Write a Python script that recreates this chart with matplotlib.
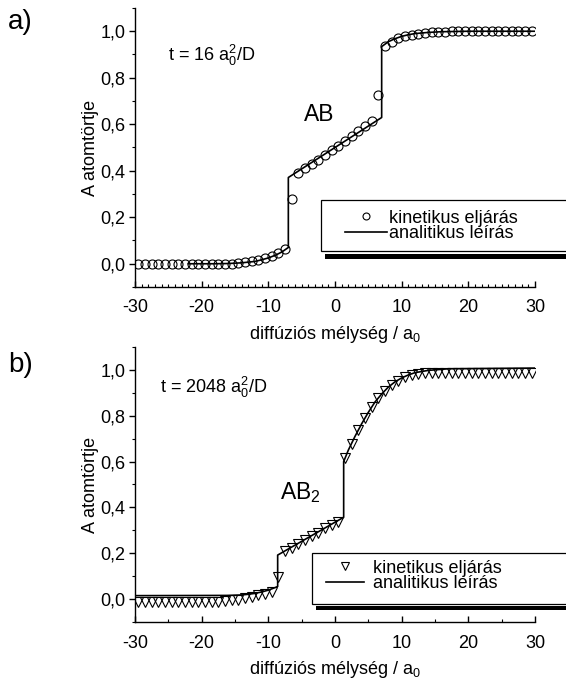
import numpy as np
import matplotlib
matplotlib.use("Agg")
import matplotlib.pyplot as plt
from matplotlib.ticker import MultipleLocator, FuncFormatter
from matplotlib.lines import Line2D
from matplotlib.patches import Rectangle

plt.rcParams['font.family'] = ['Liberation Sans', 'DejaVu Sans']
plt.rcParams['mathtext.fontset'] = 'custom'
plt.rcParams['mathtext.rm'] = 'Liberation Sans'
plt.rcParams['mathtext.it'] = 'Liberation Sans'
plt.rcParams['mathtext.default'] = 'regular'

# ---------------- data: panel a (t = 16) ----------------
kin_a_x = np.arange(-29.5, 30, 1.0)
kin_a_y = [0.0, 0.0, 0.0, 0.0, 0.0, 0.0, 0.0, 0.0, 0.0, 0.0,
           0.0, 0.0, 0.0, 0.0, 0.001, 0.003, 0.006, 0.010, 0.016, 0.024,
           0.034, 0.047, 0.062, 0.28, 0.39, 0.41, 0.43, 0.447, 0.467, 0.488,
           0.507, 0.529, 0.55, 0.572, 0.593, 0.612, 0.726, 0.938, 0.955, 0.970,
           0.978, 0.985, 0.990, 0.993, 0.995, 0.997, 0.998, 0.999, 0.999, 1.0,
           1.0, 1.0, 1.0, 1.0, 1.0, 1.0, 1.0, 1.0, 1.0, 1.0]
ana_a_x = [-22, -18, -16, -14, -12, -11, -10, -9, -8, -7, -7, 7, 7, 8, 9, 10, 11, 12, 14, 16, 20, 30]
ana_a_y = [0.0, 0.0, 0.001, 0.004, 0.010, 0.017, 0.025, 0.036, 0.050, 0.070, 0.371,
           0.629, 0.934, 0.955, 0.968, 0.978, 0.985, 0.990, 0.995, 0.998, 1.0, 1.0]

# ---------------- data: panel b (t = 2048) ----------------
kin_b_x = np.arange(-29.5, 30, 1.0)
kin_b_y = [-0.012, -0.012, -0.012, -0.012, -0.012, -0.012, -0.012, -0.012, -0.012, -0.012,
           -0.012, -0.012, -0.012, -0.010, -0.006, -0.002, 0.003, 0.009, 0.016, 0.024,
           0.033, 0.095, 0.210, 0.225, 0.240, 0.257, 0.274, 0.289, 0.308, 0.322,
           0.337, 0.617, 0.678, 0.739, 0.791, 0.837, 0.878, 0.910, 0.935, 0.953,
           0.968, 0.978, 0.984, 0.986, 0.987, 0.987, 0.987, 0.987, 0.987, 0.987,
           0.987, 0.987, 0.987, 0.987, 0.987, 0.987, 0.987, 0.987, 0.987, 0.987]
ana_b_x = [-30, -16, -14, -13, -12, -11, -10, -9, -8.6, -8.6, 1.3, 1.3, 2, 3, 4, 5, 6, 7, 8, 9, 10, 11, 12, 14, 17, 30]
ana_b_y = [0.015, 0.016, 0.018, 0.021, 0.025, 0.031, 0.039, 0.050, 0.055, 0.192, 0.357,
           0.600, 0.650, 0.710, 0.765, 0.815, 0.860, 0.895, 0.925, 0.948, 0.965, 0.978,
           0.988, 0.998, 1.005, 1.008]

W, H = 566, 684
fig = plt.figure(figsize=(W / 100, H / 100), dpi=100)

def px(x0, y0, x1, y1):
    return [x0 / W, 1 - y1 / H, (x1 - x0) / W, (y1 - y0) / H]

ax1 = fig.add_axes(px(135, 8, 535, 287))
ax2 = fig.add_axes(px(135, 347, 535, 622))

comma = FuncFormatter(lambda v, p: f"{v:.1f}".replace('.', ','))
intfmt = FuncFormatter(lambda v, p: f"{v:.0f}")

fs = 13
for ax, minor_x in ((ax1, 1), (ax2, 5)):
    ax.set_xlim(-30, 30)
    ax.set_ylim(-0.1, 1.1)
    ax.spines['top'].set_visible(False)
    ax.spines['right'].set_visible(False)
    for s in ('left', 'bottom'):
        ax.spines[s].set_linewidth(1.0)
    ax.xaxis.set_major_locator(MultipleLocator(10))
    ax.xaxis.set_minor_locator(MultipleLocator(minor_x))
    ax.yaxis.set_major_locator(MultipleLocator(0.2))
    ax.yaxis.set_minor_locator(MultipleLocator(0.1))
    ax.yaxis.set_major_formatter(comma)
    ax.xaxis.set_major_formatter(intfmt)
    ax.tick_params(axis='x', which='major', direction='in', length=4, width=1.0, labelsize=fs, pad=9)
    ax.tick_params(axis='x', which='minor', direction='in', length=2, width=0.8)
    ax.tick_params(axis='y', which='major', direction='out', length=4, width=1.0, labelsize=fs, pad=3)
    ax.tick_params(axis='y', which='minor', direction='out', length=2, width=0.8)
    ax.set_ylabel('A atomtörtje', fontsize=fs, labelpad=1)
    ax.set_xlabel('diffúziós mélység / a$_0$', fontsize=fs, labelpad=5.5)

ax1.plot(ana_a_x, ana_a_y, color='black', lw=1.2, zorder=2)
ax1.plot(kin_a_x, kin_a_y, ls='none', marker='o', ms=6.5, mfc='none', mec='black', mew=0.8, zorder=3)
ax2.plot(ana_b_x, ana_b_y, color='black', lw=1.2, zorder=2)
ax2.plot(kin_b_x, kin_b_y, ls='none', marker='v', ms=7, mfc='none', mec='black', mew=0.8, zorder=3)

ax1.text(-25.0, 0.895, 't = 16 a$_0^2$/D', fontsize=fs, ha='left', va='center')
ax1.text(-2.4, 0.642, 'AB', fontsize=16.5, ha='center', va='center')
ax2.text(-26.2, 0.925, 't = 2048 a$_0^2$/D', fontsize=fs, ha='left', va='center')
ax2.text(-5.25, 0.465, 'AB$_2$', fontsize=16.5, ha='center', va='center')

fig.text(8 / W, 1 - 22 / H, 'a)', fontsize=20, ha='left', va='center')
fig.text(8 / W, 1 - 365 / H, 'b)', fontsize=20, ha='left', va='center')

def frame(x0, y0, x1, y1, sx0, sy0, sy1):
    fig.patches.append(Rectangle((sx0 / W, 1 - sy1 / H), (x1 - sx0) / W, (sy1 - sy0) / H,
                                 transform=fig.transFigure, facecolor='black', edgecolor='none', zorder=5))
    fig.patches.append(Rectangle((x0 / W, 1 - y1 / H), (x1 - x0) / W, (y1 - y0) / H,
                                 transform=fig.transFigure, facecolor='white', edgecolor='black',
                                 lw=0.9, zorder=6))

frame(321, 200, 620, 251, 325, 254, 259)
frame(312, 553, 620, 604, 316, 606, 610)

h1 = [Line2D([], [], ls='none', marker='o', ms=5, mfc='none', mec='black', mew=0.8),
      Line2D([], [], color='black', lw=1.2)]
h2 = [Line2D([], [], ls='none', marker='v', ms=6, mfc='none', mec='black', mew=0.8),
      Line2D([], [], color='black', lw=1.2)]
labels = ['kinetikus eljárás', 'analitikus leírás']

leg1 = fig.legend(h1, labels, loc='center left', bbox_to_anchor=(345 / W, 1 - 226 / H),
                  frameon=False, borderpad=0, borderaxespad=0, handlelength=2.3,
                  handletextpad=0.15, labelspacing=-0.08, fontsize=fs)
leg1.set_zorder(10)
leg2 = fig.legend(h2, labels, loc='center left', bbox_to_anchor=(326 / W, 1 - 576 / H),
                  frameon=False, borderpad=0, borderaxespad=0, handlelength=2.1,
                  handletextpad=0.5, labelspacing=-0.08, fontsize=fs)
leg2.set_zorder(10)

fig.savefig('out.png', dpi=100)
